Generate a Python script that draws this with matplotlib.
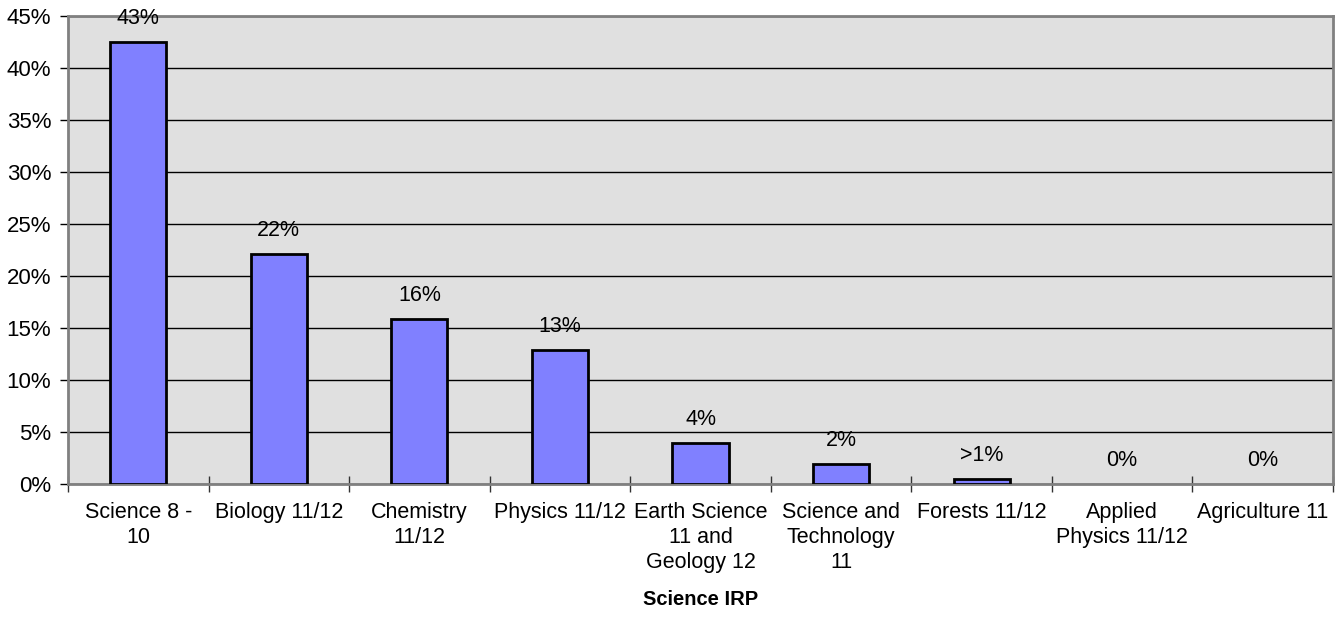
import numpy as np
import matplotlib
matplotlib.use("Agg")
import matplotlib.pyplot as plt
from matplotlib.ticker import FixedLocator, PercentFormatter

plt.rcParams['font.family'] = ['Liberation Sans', 'DejaVu Sans']

# data
categories = ['Science 8 -\n10', 'Biology 11/12', 'Chemistry\n11/12', 'Physics 11/12',
              'Earth Science\n11 and\nGeology 12', 'Science and\nTechnology\n11',
              'Forests 11/12', 'Applied\nPhysics 11/12', 'Agriculture 11']
values = [42.5, 22.1, 15.9, 12.9, 3.9, 1.9, 0.5, 0.0, 0.0]
labels = ['43%', '22%', '16%', '13%', '4%', '2%', '>1%', '0%', '0%']

fig = plt.figure(figsize=(13.39, 6.18), dpi=100)
ax = fig.add_axes([68 / 1339, 1 - 484 / 618, (1333 - 68) / 1339, (484 - 16) / 618])

x = np.arange(len(categories))
ax.set_facecolor('#e0e0e0')
edge_w = [2 if v > 0 else 0 for v in values]
ax.bar(x, values, width=0.4, color='#8080ff', edgecolor='black', linewidth=edge_w, zorder=3)

for xi, v, lab in zip(x, values, labels):
    ax.annotate(lab, (xi, v), xytext=(0, 17), textcoords='offset points',
                ha='center', va='center', fontsize=15.5)

ax.set_xlim(-0.5, len(categories) - 0.5)
ax.set_ylim(0, 45)
ax.set_yticks(np.arange(0, 46, 5))
ax.yaxis.set_major_formatter(PercentFormatter(decimals=0))
ax.yaxis.grid(True, color='black', linewidth=1, zorder=1)
ax.set_axisbelow(True)

ax.set_xticks(x)
ax.set_xticklabels(categories, fontsize=15.5, linespacing=1.25)
ax.xaxis.set_minor_locator(FixedLocator(np.arange(-0.5, len(categories), 1)))
ax.tick_params(axis='x', which='major', length=0, pad=13)
ax.tick_params(axis='x', which='minor', direction='inout', length=12, width=1, color='#333333')
ax.tick_params(axis='y', labelsize=16, length=6, width=1, color='black', pad=6)

for s in ax.spines.values():
    s.set_color('#808080')
    s.set_linewidth(2)

ax.set_xlabel('Science IRP', fontsize=14.5, fontweight='bold', labelpad=12)

fig.savefig('out.png', dpi=100)
